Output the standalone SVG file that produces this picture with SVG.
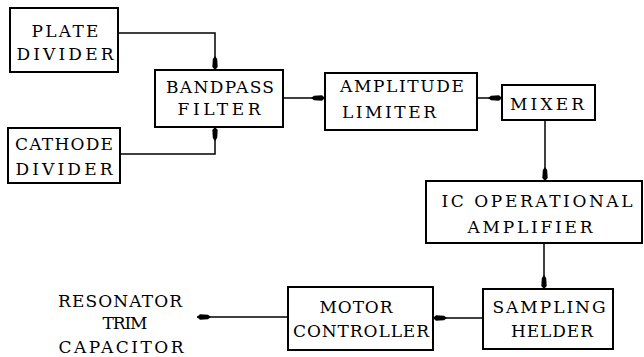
<svg xmlns="http://www.w3.org/2000/svg" width="644" height="357" viewBox="0 0 644 357">
<defs>
<style>
.box{fill:#fff;stroke:#000;stroke-width:2}
.t{font-family:"DejaVu Serif","Liberation Serif",serif;font-size:17px;fill:#000;text-anchor:middle}
.ln{fill:none;stroke:#000;stroke-width:1.5}
</style>
<marker id="ah" viewBox="0 0 14 6" refX="14" refY="3" markerWidth="14" markerHeight="6" markerUnits="userSpaceOnUse" orient="auto">
<path d="M0,3 L3,0.8 L11,0.3 L14,3 L11,5.7 L3,5.2 Z" fill="#000"/>
</marker>
</defs>
<rect width="644" height="357" fill="#fff"/>
<g id="connectors">
<path class="ln" d="M118,33 H215 V70" marker-end="url(#ah)"/>
<path class="ln" d="M120,154 H215 V127" marker-end="url(#ah)"/>
<path class="ln" d="M283,98 H325" marker-end="url(#ah)"/>
<path class="ln" d="M477,98 H502" marker-end="url(#ah)"/>
<path class="ln" d="M545,120 V181" marker-end="url(#ah)"/>
<path class="ln" d="M544,243 V289" marker-end="url(#ah)"/>
<path class="ln" d="M483,318 H433" marker-end="url(#ah)"/>
<path class="ln" d="M288,317 H197" marker-end="url(#ah)"/>
</g>
<g id="plate">
<rect class="box" x="10" y="8" width="108" height="64"/>
<text class="t" x="65" y="37" textLength="67" lengthAdjust="spacing">PLATE</text>
<text class="t" x="65" y="60" textLength="97" lengthAdjust="spacing">DIVIDER</text>
</g>
<g id="cathode">
<rect class="box" x="8" y="128" width="112" height="55"/>
<text class="t" x="64" y="150" textLength="98" lengthAdjust="spacing">CATHODE</text>
<text class="t" x="64" y="175" textLength="97" lengthAdjust="spacing">DIVIDER</text>
</g>
<g id="bandpass">
<rect class="box" x="155" y="70" width="128" height="57"/>
<text class="t" x="220" y="93" textLength="108" lengthAdjust="spacing">BANDPASS</text>
<text class="t" x="219" y="115" textLength="83" lengthAdjust="spacing">FILTER</text>
</g>
<g id="amplitude">
<rect class="box" x="325" y="73" width="152" height="57"/>
<text class="t" x="402" y="92" textLength="124" lengthAdjust="spacing">AMPLITUDE</text>
<text class="t" x="389" y="118" textLength="94" lengthAdjust="spacing">LIMITER</text>
</g>
<g id="mixer">
<rect class="box" x="502" y="85" width="93" height="35"/>
<text class="t" x="547" y="110" textLength="74" lengthAdjust="spacing">MIXER</text>
</g>
<g id="icopamp">
<rect class="box" x="426" y="181" width="216" height="62"/>
<text class="t" x="537" y="207" textLength="191" lengthAdjust="spacing">IC OPERATIONAL</text>
<text class="t" x="530" y="233" textLength="125" lengthAdjust="spacing">AMPLIFIER</text>
</g>
<g id="sampling">
<rect class="box" x="483" y="289" width="130" height="60"/>
<text class="t" x="549" y="313" textLength="113" lengthAdjust="spacing">SAMPLING</text>
<text class="t" x="552" y="337" textLength="82" lengthAdjust="spacing">HELDER</text>
</g>
<g id="motor">
<rect class="box" x="288" y="287" width="145" height="63"/>
<text class="t" x="356" y="313" textLength="73" lengthAdjust="spacing">MOTOR</text>
<text class="t" x="361" y="337" textLength="136" lengthAdjust="spacing">CONTROLLER</text>
</g>
<g id="resonator">
<text class="t" x="120" y="307" textLength="124" lengthAdjust="spacing">RESONATOR</text>
<text class="t" x="125" y="329" textLength="45" lengthAdjust="spacing">TRIM</text>
<text class="t" x="121" y="353" textLength="125" lengthAdjust="spacing">CAPACITOR</text>
</g>
</svg>
